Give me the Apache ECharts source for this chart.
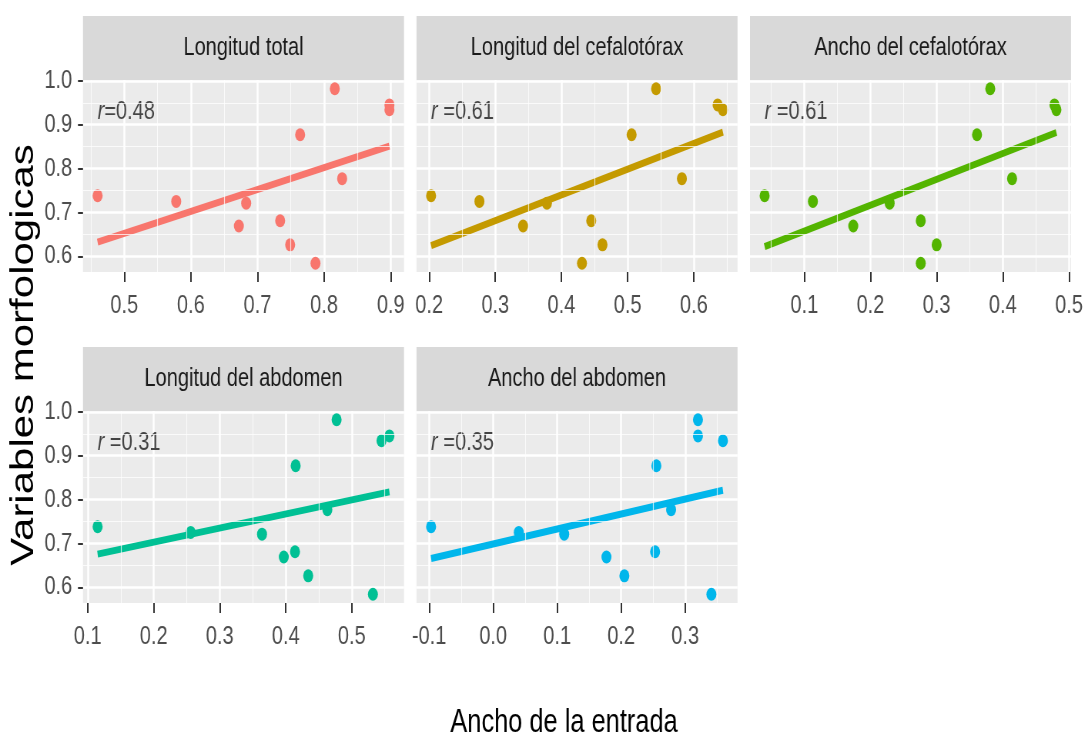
<!DOCTYPE html>
<html>
<head>
<meta charset="utf-8">
<script src="https://cdn.jsdelivr.net/npm/echarts@6.0.0/dist/echarts.min.js"></script>
<style>
  html, body { margin: 0; padding: 0; background: #fff; overflow: hidden; }
  #wrap { width: 1087px; height: 738px; overflow: hidden; }
  /* the figure is squeezed sideways, so draw wider and scale it back */
  #chart { width: 1412px; height: 738px; transform: scaleX(0.77); transform-origin: 0 0; }
</style>
</head>
<body>
<div id="wrap"><div id="chart"></div></div>
<script>
var S = 0.77;
function cx(v) { return v / S; }

// datos
var panelNames = ['Longitud total', 'Longitud del cefalotórax', 'Ancho del cefalotórax', 'Longitud del abdomen', 'Ancho del abdomen'];
var rTexts = ['=0.48', ' =0.61', ' =0.61', ' =0.31', ' =0.35'];
var colors = ['#F8766D', '#C49A00', '#53B400', '#00C094', '#00B6EB'];

var yMorfo       = [0.982, 0.945, 0.934, 0.877, 0.777, 0.738, 0.725, 0.721, 0.681, 0.669, 0.626, 0.584];
var xLongTotal   = [0.816, 0.898, 0.898, 0.764, 0.827, 0.460, 0.578, 0.683, 0.734, 0.672, 0.749, 0.787];
var xLongCefalo  = [0.543, 0.636, 0.644, 0.506, 0.582, 0.203, 0.276, 0.378, 0.445, 0.342, 0.462, 0.431];
var xAnchoCefalo = [0.381, 0.478, 0.481, 0.361, 0.414, 0.040, 0.113, 0.229, 0.276, 0.174, 0.300, 0.276];
var xLongAbd     = [0.477, 0.557, 0.545, 0.415, 0.463, 0.115, 0.256, 0.364, 0.414, 0.397, 0.434, 0.532];
var xAnchoAbd    = [0.320, 0.320, 0.359, 0.255, 0.278, -0.097, 0.040, 0.111, 0.253, 0.177, 0.205, 0.341];
var xSets = [xLongTotal, xLongCefalo, xAnchoCefalo, xLongAbd, xAnchoAbd];

var xTicks = [
  [0.5, 0.6, 0.7, 0.8, 0.9],
  [0.2, 0.3, 0.4, 0.5, 0.6],
  [0.1, 0.2, 0.3, 0.4, 0.5],
  [0.1, 0.2, 0.3, 0.4, 0.5],
  [-0.1, 0.0, 0.1, 0.2, 0.3]
];
var yTicks = [0.6, 0.7, 0.8, 0.9, 1.0];
var rLabelY = 0.93;

// layout (reference pixels)
var colLeft = [83, 416.5, 750];
var panelW = 321;
var rowTop = [80, 411];
var panelH = 192;
var stripH = 64;

function expand(arr) {
  var lo = Math.min.apply(null, arr), hi = Math.max.apply(null, arr);
  var d = (hi - lo) * 0.05;
  return [lo - d, hi + d];
}
function minors(ticks, ext) {
  var step = ticks[1] - ticks[0], out = [];
  var cand = [ticks[0] - step / 2];
  for (var i = 0; i < ticks.length; i++) cand.push(ticks[i] + step / 2);
  cand.forEach(function (v) { if (v > ext[0] && v < ext[1]) out.push(+v.toFixed(4)); });
  return out;
}
function fit(xs, ys) {
  var n = xs.length, mx = 0, my = 0, sxy = 0, sxx = 0;
  for (var i = 0; i < n; i++) { mx += xs[i] / n; my += ys[i] / n; }
  for (var j = 0; j < n; j++) { sxy += (xs[j] - mx) * (ys[j] - my); sxx += (xs[j] - mx) * (xs[j] - mx); }
  var b = sxy / sxx, a = my - b * mx;
  var lo = Math.min.apply(null, xs), hi = Math.max.apply(null, xs);
  return [[lo, a + b * lo], [hi, a + b * hi]];
}

var yExt = expand(yMorfo);
var font = 'Liberation Sans, Arial, sans-serif';

var grids = [], xAxes = [], yAxes = [], series = [], graphics = [];

xSets.forEach(function (xs, i) {
  var col = i < 3 ? i : i - 3;
  var row = i < 3 ? 0 : 1;
  var xExt = expand(xs);

  grids.push({
    left: cx(colLeft[col]), top: rowTop[row], width: cx(panelW), height: panelH,
    show: true, backgroundColor: '#EBEBEB', borderWidth: 0, containLabel: false, outerBoundsMode: 'none'
  });

  xAxes.push({
    type: 'value', gridIndex: i, min: xExt[0], max: xExt[1],
    axisLine: { show: false, onZero: false },
    axisTick: { show: true, customValues: xTicks[i], length: 10, lineStyle: { color: '#333333', width: 2 } },
    axisLabel: {
      show: true, customValues: xTicks[i], margin: 21, fontSize: 26, color: '#4D4D4D', fontFamily: font,
      formatter: function (v) { return v.toFixed(1); }
    },
    splitLine: { show: true, lineStyle: { color: '#FFFFFF', width: 2.5 } }
  });

  var firstCol = col === 0;
  yAxes.push({
    type: 'value', gridIndex: i, min: yExt[0], max: yExt[1],
    axisLine: { show: false, onZero: false },
    axisTick: { show: firstCol, customValues: yTicks, length: 6.5, lineStyle: { color: '#333333', width: 2 } },
    axisLabel: {
      show: firstCol, customValues: yTicks, margin: 14, fontSize: 26, color: '#4D4D4D', fontFamily: font,
      formatter: function (v) { return v.toFixed(1); }
    },
    splitLine: { show: true, lineStyle: { color: '#FFFFFF', width: 2.5 } }
  });

  // minor grid lines
  var ml = [];
  minors(xTicks[i], xExt).forEach(function (v) { ml.push({ xAxis: v }); });
  minors(yTicks, yExt).forEach(function (v) { ml.push({ yAxis: v }); });
  series.push({
    type: 'line', xAxisIndex: i, yAxisIndex: i, data: [], silent: true, z: 1,
    markLine: {
      silent: true, symbol: ['none', 'none'], animation: false,
      label: { show: false },
      lineStyle: { color: '#FFFFFF', width: 1.2, type: 'solid', opacity: 0.75 },
      emphasis: { disabled: true },
      data: ml
    }
  });

  // recta de regresion
  series.push({
    type: 'line', xAxisIndex: i, yAxisIndex: i, z: 2, silent: true,
    data: fit(xs, yMorfo), symbol: 'none',
    lineStyle: { color: colors[i], width: 7, cap: 'butt' }
  });

  // puntos
  series.push({
    type: 'scatter', xAxisIndex: i, yAxisIndex: i, z: 3,
    data: xs.map(function (x, k) { return [x, yMorfo[k]]; }),
    symbolSize: 13, itemStyle: { color: colors[i], opacity: 1 }
  });

  // r label
  series.push({
    type: 'scatter', xAxisIndex: i, yAxisIndex: i, z: 4, silent: true,
    data: [[Math.min.apply(null, xs), rLabelY]], symbolSize: 0,
    label: {
      show: true, position: 'right', distance: 0,
      formatter: '{i|r}{n|' + rTexts[i] + '}',
      rich: {
        i: { fontStyle: 'italic', fontSize: 26, color: '#1A1A1A', fontFamily: font },
        n: { fontSize: 26, color: '#1A1A1A', fontFamily: font }
      }
    }
  });

  // strip
  graphics.push({
    type: 'rect', silent: true,
    shape: { x: cx(colLeft[col]), y: rowTop[row] - stripH, width: cx(panelW), height: stripH },
    style: { fill: '#D9D9D9' }
  });
  graphics.push({
    type: 'text', silent: true,
    x: cx(colLeft[col] + panelW / 2), y: rowTop[row] - stripH / 2,
    style: { text: panelNames[i], fontSize: 26, fontFamily: font, fill: '#1A1A1A', align: 'center', verticalAlign: 'middle' }
  });
});

graphics.push({
  type: 'text', silent: true, x: cx(24), y: 355, rotation: Math.PI / 2,
  style: { text: 'Variables morfologicas', fontSize: 42, fontFamily: font, fill: '#000000', align: 'center', verticalAlign: 'middle' }
});
graphics.push({
  type: 'text', silent: true, x: cx(564), y: 723,
  style: { text: 'Ancho de la entrada', fontSize: 33, fontFamily: font, fill: '#000000', align: 'center', verticalAlign: 'middle' }
});

var chart = echarts.init(document.getElementById('chart'));
chart.setOption({
  animation: false,
  backgroundColor: '#FFFFFF',
  grid: grids,
  xAxis: xAxes,
  yAxis: yAxes,
  series: series,
  graphic: graphics
});
</script>
</body>
</html>
